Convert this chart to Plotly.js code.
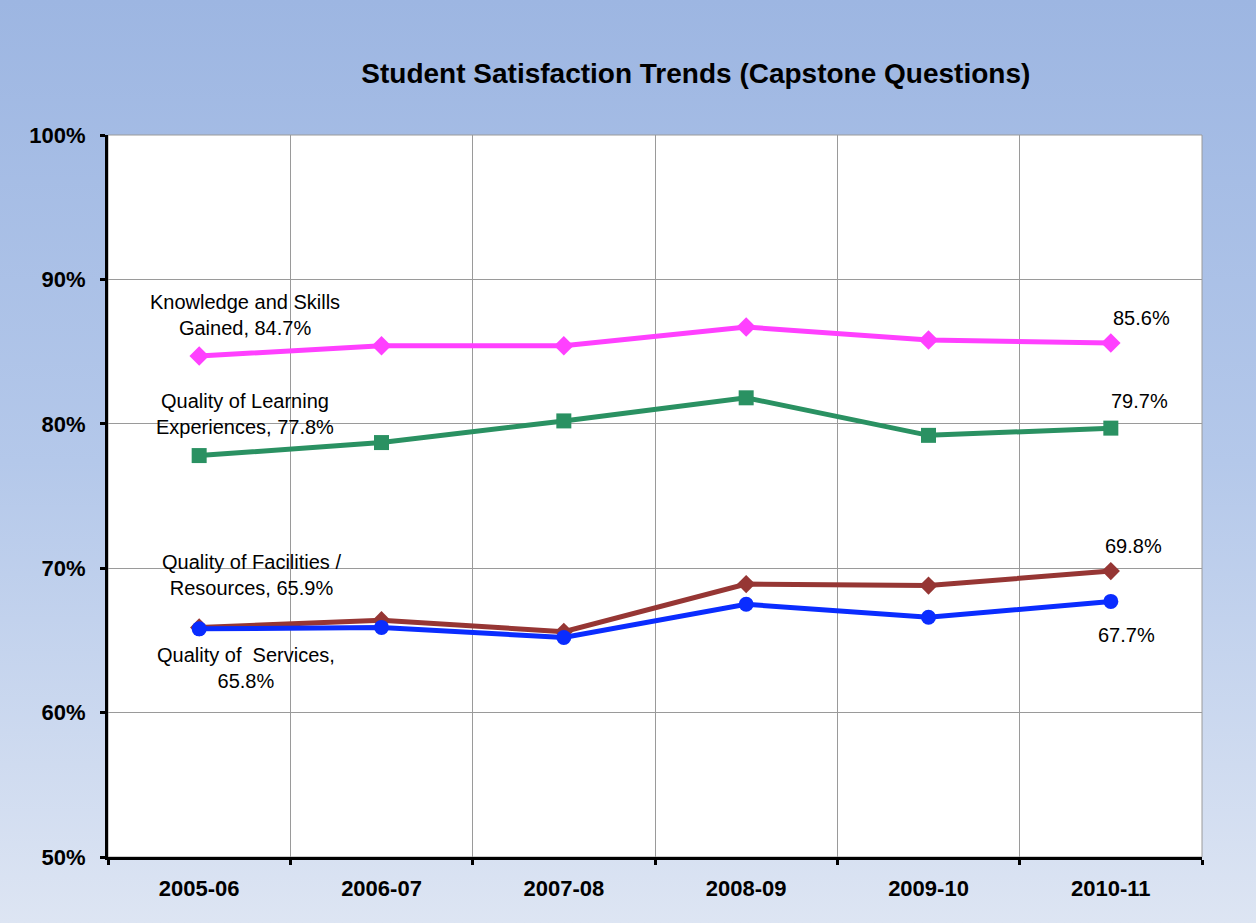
<!DOCTYPE html>
<html>
<head>
<meta charset="utf-8">
<script src="https://cdn.plot.ly/plotly-3.0.1.min.js"></script>
<style>
  html, body { margin: 0; padding: 0; }
  #chart {
    width: 1256px; height: 923px;
    background: linear-gradient(to bottom, #9db6e2 0%, #b4c8ea 50%, #dde5f3 100%);
  }
</style>
</head>
<body>
<div id="chart"></div>
<script>
const years = ["2005-06", "2006-07", "2007-08", "2008-09", "2009-10", "2010-11"];

const knowledge = [84.7, 85.4, 85.4, 86.7, 85.8, 85.6];
const learning = [77.8, 78.7, 80.2, 81.8, 79.2, 79.7];
const facilities = [65.9, 66.4, 65.6, 68.9, 68.8, 69.8];
const services = [65.8, 65.9, 65.2, 67.5, 66.6, 67.7];

const yTicks = [50, 60, 70, 80, 90, 100];

const FONT = "Liberation Sans, Arial, sans-serif";

function line(y, name, color, symbol, size) {
  return {
    x: years, y: y, name: name,
    type: "scatter", mode: "lines+markers",
    line: { color: color, width: 5 },
    marker: { color: color, symbol: symbol, size: size },
    hoverinfo: "skip"
  };
}

const traces = [
  line(knowledge, "Knowledge and Skills Gained", "#ff40ff", "diamond", 15),
  line(learning, "Quality of Learning Experiences", "#2a9162", "square", 15),
  line(facilities, "Quality of Facilities / Resources", "#963634", "diamond", 14),
  line(services, "Quality of Services", "#0a2cff", "circle", 15)
];

const last = years.length - 1;
function note(x, y, text, xs, ys) {
  return {
    x: x, y: y, xref: "x", yref: "y", text: text, showarrow: false,
    xshift: xs, yshift: ys, align: "center",
    font: { family: FONT, size: 20, color: "#000" }
  };
}

const annotations = [
  note(years[0], knowledge[0], "Knowledge and Skills<br>Gained, " + knowledge[0] + "%", 46, 41),
  note(years[0], learning[0], "Quality of Learning<br>Experiences, " + learning[0] + "%", 46, 42),
  note(years[0], facilities[0], "Quality of Facilities /<br>Resources, " + facilities[0] + "%", 52, 52),
  note(years[0], services[0], "Quality of  Services,<br>" + services[0] + "%", 47, -39),
  note(years[last], knowledge[last], knowledge[last] + "%", 31, 25),
  note(years[last], learning[last], learning[last] + "%", 29, 27),
  note(years[last], facilities[last], facilities[last] + "%", 23, 25),
  note(years[last], services[last], services[last] + "%", 16, -34)
];

const layout = {
  width: 1256, height: 923,
  paper_bgcolor: "rgba(0,0,0,0)",
  plot_bgcolor: "#ffffff",
  margin: { l: 108, r: 54, t: 135, b: 66 },
  showlegend: false,
  title: {
    text: "<b>Student Satisfaction Trends (Capstone Questions)</b>",
    x: 0.554, xanchor: "center", y: 0.921, yanchor: "middle",
    font: { family: FONT, size: 28, color: "#000" }
  },
  xaxis: {
    type: "category",
    tickson: "boundaries",
    showgrid: true, gridcolor: "#9a9a9a", gridwidth: 1,
    showline: true, linecolor: "#000", linewidth: 3,
    ticks: "outside", ticklen: 5, tickwidth: 3, tickcolor: "#000",
    ticklabelstandoff: 10,
    tickfont: { family: FONT, size: 22, color: "#000", weight: "bold" },
    range: [-0.5, 5.5],
    zeroline: false
  },
  yaxis: {
    range: [50, 100],
    tickvals: yTicks,
    ticktext: yTicks.map(v => v + "%"),
    showgrid: true, gridcolor: "#9a9a9a", gridwidth: 1,
    showline: true, linecolor: "#000", linewidth: 3,
    ticks: "outside", ticklen: 5, tickwidth: 3, tickcolor: "#000",
    ticklabelstandoff: 10,
    tickfont: { family: FONT, size: 22, color: "#000", weight: "bold" },
    zeroline: false
  },
  shapes: [
    { type: "rect", xref: "paper", yref: "paper", x0: 0, x1: 1, y0: 0, y1: 1,
      line: { color: "#9a9a9a", width: 1 }, layer: "below" }
  ],
  annotations: annotations
};

Plotly.newPlot("chart", traces, layout, { displayModeBar: false, staticPlot: true });
</script>
</body>
</html>
